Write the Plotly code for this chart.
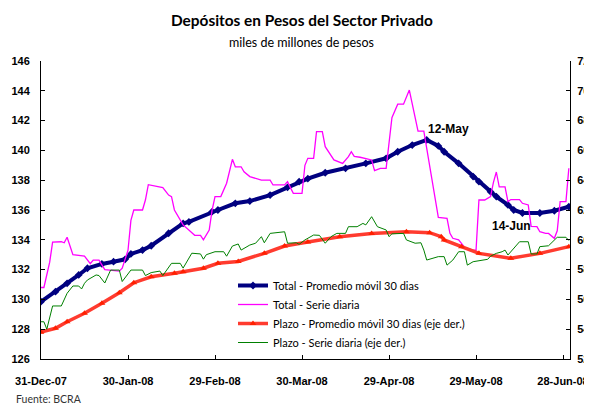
import pandas as pd
import plotly.graph_objects as go

START = pd.Timestamp("2007-12-31")

# Total - Serie diaria (left axis), days since 31-Dec-07
total_daily_days = [0, 1, 3, 4, 7, 8, 9, 11, 15, 17, 18, 20, 22, 27, 28, 30, 31, 32, 35, 36, 37, 39, 42, 44, 45,
                    46, 49, 53, 55, 56, 58, 59, 60, 62, 64, 66, 67, 69, 70, 72, 76, 79, 80, 84, 85, 86, 87, 90,
                    91, 92, 94, 95, 97, 98, 101, 104, 106, 107, 108, 110, 114, 115, 117, 119, 121, 123, 125,
                    127, 128, 130, 132, 134, 137, 140, 141, 142, 144, 146, 149, 150, 151, 153, 155, 156, 157,
                    158, 160, 161, 162, 165, 166, 168, 169, 171, 172, 174, 175, 177, 178, 179, 181, 182]
total_daily = [130.8, 130.8, 132.5, 133.85, 133.87, 133.8, 134.17, 133.0, 132.9, 132.4, 132.64, 132.64, 132.0,
               131.9, 132.1, 133.3, 135.3, 136.0, 136.0, 136.67, 137.7, 137.6, 137.5, 137.0, 136.9,
               136.0, 135.0, 134.3, 134.3, 134.0, 134.66, 136.0, 136.9, 136.9, 137.8, 139.4, 138.9, 138.9,
               138.57, 138.24, 138.0, 138.0, 137.68, 137.68, 137.9, 137.5, 137.12, 137.12,
               139.0, 139.47, 139.47, 141.26, 141.26, 140.25, 139.36, 139.13, 139.58, 139.91, 139.6, 139.54,
               139.36, 138.64, 138.8, 138.8, 142.2, 143.1, 143.1, 144.05, 143.16, 141.3, 141.3, 139.0,
               135.5, 135.44, 134.43, 134.1, 134.0, 133.5, 133.3, 133.3, 136.67, 136.67, 136.9, 137.85,
               138.55, 137.55, 137.55, 136.56, 136.7, 136.7, 136.45, 136.34, 134.9, 134.88, 134.54, 134.43,
               134.43, 134.1, 134.6, 136.56, 136.56, 138.8]

# Total - Promedio movil 30 dias (left axis)
total_ma_days = [0, 5, 9, 13, 16, 21, 25, 29, 31, 35, 38, 44, 49, 51, 59, 61, 67, 72, 79, 85, 89, 92, 98, 105,
                 112, 119, 123, 128, 133, 137, 139, 144, 149, 151, 155, 157, 161, 163, 166, 172, 177, 182]
total_ma = [129.85, 130.52, 131.08, 131.64, 132.09, 132.38, 132.53, 132.69, 133.05, 133.31, 133.6, 134.44,
            135.1, 135.2, 135.89, 136.0, 136.45, 136.6, 137.0, 137.52, 137.9, 138.1, 138.5, 138.8, 139.13,
            139.47, 139.91, 140.36, 140.7, 140.3, 139.91, 139.13, 138.24, 137.9, 137.23, 136.9, 136.34,
            136.0, 135.8, 135.8, 135.95, 136.22]

# Plazo - Promedio movil 30 dias (right axis)
plazo_ma_days = [0, 5, 9, 15, 21, 27, 32, 38, 46, 49, 56, 61, 68, 77, 84, 92, 103, 114, 126, 134, 138, 139,
                 145, 151, 162, 172, 182]
plazo_ma = [53.8, 54.06, 54.5, 55.07, 55.74, 56.45, 57.12, 57.52, 57.75, 57.85, 58.09, 58.42, 58.55, 59.09,
            59.58, 59.85, 60.21, 60.43, 60.54, 60.48, 60.21, 59.99, 59.54, 59.09, 58.76, 59.09, 59.54]

# Plazo - Serie diaria (right axis)
plazo_daily_days = [0, 1, 2, 4, 7, 9, 11, 13, 14, 15, 16, 19, 20, 22, 24, 27, 28, 31, 35, 36, 38, 41, 42, 45,
                    48, 49, 52, 55, 56, 57, 60, 63, 64, 65, 66, 68, 69, 72, 74, 76, 77, 79, 84, 85, 88, 89, 91,
                    94, 96, 98, 100, 102, 105, 106, 109, 111, 112, 114, 116, 119, 120, 121, 125, 126, 129,
                    131, 132, 133, 137, 139, 140, 142, 144, 146, 147, 149, 154, 155, 157, 159, 160, 161, 163,
                    165, 168, 169, 171, 172, 175, 177, 178, 181, 182]
plazo_daily = [54.5, 54.5, 54.0, 55.56, 55.56, 56.41, 56.9, 56.9, 56.7, 57.08, 57.3, 57.64, 57.6, 57.1, 57.97,
               57.97, 57.2, 57.97, 57.97, 57.6, 57.8, 57.9, 57.6, 58.42, 58.42, 58.1, 59.1, 59.05, 58.7, 59.0,
               59.2, 59.2, 58.9, 59.2, 59.58, 59.72, 59.31, 59.65, 59.77, 60.21, 59.8, 60.43, 60.54, 59.77,
               59.8, 59.7, 59.99, 60.32, 60.3, 59.77, 60.21, 60.43, 60.43, 60.88, 60.88, 61.1, 61.0, 61.55,
               60.88, 60.66, 60.21, 60.4, 60.43, 59.99, 59.77, 59.8, 59.31, 58.64, 58.87, 58.87, 58.3, 58.64,
               59.2, 59.2, 58.3, 58.53, 58.69, 58.9, 59.09, 59.2, 59.31, 58.98, 59.43, 59.87, 59.87, 59.05,
               59.05, 59.54, 59.6, 59.99, 60.17, 60.17, 59.95]

tick_dates = ["2007-12-31", "2008-01-30", "2008-02-29", "2008-03-30", "2008-04-29", "2008-05-29", "2008-06-28"]
tick_labels = ["31-Dec-07", "30-Jan-08", "29-Feb-08", "30-Mar-08", "29-Apr-08", "29-May-08", "28-Jun-08"]
left_ticks = list(range(126, 147, 2))
right_ticks = list(range(52, 73, 2))


def to_dates(days):
    return [START + pd.Timedelta(days=d) for d in days]


LEG_FONT = "Lato"
TICK_FONT = "Liberation Sans"

# page offset of the figure (default body margin) is 8px; plot area in page px: x 41..570, y 61..359
W, H = 584, 399
PL, PR, PT, PB = 33, 562, 53, 351
PW, PH = PR - PL, PB - PT


def px(xp):
    return (xp - 8 - PL) / PW


def py(yp):
    return (PB - (yp - 8)) / PH


fig = go.Figure()
fig.add_trace(go.Scatter(
    x=to_dates(total_ma_days), y=total_ma, name="Total - Promedio móvil 30 dias",
    mode="lines+markers", line=dict(color="#000080", width=4),
    marker=dict(symbol="diamond", size=6, color="#000080"), yaxis="y"))
fig.add_trace(go.Scatter(
    x=to_dates(total_daily_days), y=total_daily, name="Total - Serie diaria",
    mode="lines", line=dict(color="#FF00FF", width=1.3), yaxis="y"))
fig.add_trace(go.Scatter(
    x=to_dates(plazo_ma_days), y=plazo_ma, name="Plazo - Promedio móvil 30 dias (eje der.)",
    mode="lines+markers", line=dict(color="#FF3B2F", width=3.5),
    marker=dict(symbol="triangle-up", size=6, color="#FF2000"), yaxis="y2"))
fig.add_trace(go.Scatter(
    x=to_dates(plazo_daily_days), y=plazo_daily, name="Plazo - Serie diaria (eje der.)",
    mode="lines", line=dict(color="#008000", width=1), yaxis="y2"))

axis_common = dict(showgrid=False, zeroline=False, showline=True, linecolor="black", linewidth=1,
                   ticks="inside", ticklen=4, tickcolor="black", automargin=False,
                   tickfont=dict(family=TICK_FONT, size=11, color="black", weight="bold"))

fig.update_layout(
    width=W, height=H,
    margin=dict(l=PL, r=W - PR, t=PT, b=H - PB, autoexpand=False),
    paper_bgcolor="white", plot_bgcolor="white",
    showlegend=True,
    legend=dict(x=px(233), y=py(271), xanchor="left", yanchor="top", bgcolor="rgba(0,0,0,0)",
                font=dict(family=LEG_FONT, size=11, color="black"), tracegroupgap=0),
    xaxis=dict(type="date", range=[START, START + pd.Timedelta(days=182.4)],
               tickvals=tick_dates, ticktext=tick_labels, ticklabelstandoff=12, **axis_common),
    yaxis=dict(range=[126, 146], tickvals=left_ticks, ticklabelstandoff=8, **axis_common),
    yaxis2=dict(range=[52, 72], tickvals=right_ticks, overlaying="y", side="right",
                ticklabelstandoff=4, **axis_common),
    annotations=[
        dict(text="<b>Depósitos en Pesos del Sector Privado</b>", xref="paper", yref="paper",
             x=px(302), y=py(20), xanchor="center", yanchor="middle", showarrow=False,
             font=dict(family=LEG_FONT, size=15.4, color="black")),
        dict(text="miles de millones de pesos", xref="paper", yref="paper",
             x=px(301), y=py(43), xanchor="center", yanchor="middle", showarrow=False,
             font=dict(family=LEG_FONT, size=12.5, color="black")),
        dict(text="<b>12-May</b>", xref="paper", yref="paper",
             x=px(448), y=py(129), xanchor="center", yanchor="middle",
             showarrow=False, font=dict(family=TICK_FONT, size=12, color="black")),
        dict(text="<b>14-Jun</b>", xref="paper", yref="paper",
             x=px(511), y=py(226), xanchor="center", yanchor="middle",
             showarrow=False, font=dict(family=TICK_FONT, size=12, color="black")),
        dict(text="Fuente: BCRA", xref="paper", yref="paper",
             x=px(14), y=py(399), xanchor="left", yanchor="middle",
             showarrow=False, font=dict(family=LEG_FONT, size=10.5, color="#333333")),
    ],
)

fig.write_html("out.html")
